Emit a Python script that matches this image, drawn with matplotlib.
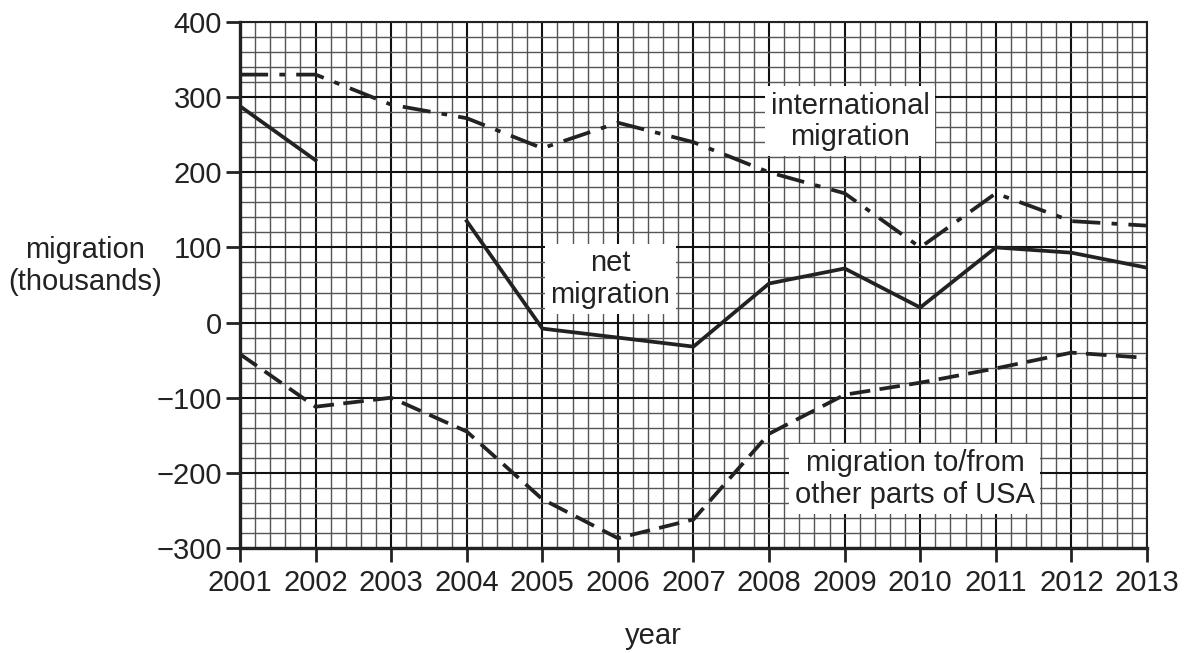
import matplotlib
matplotlib.use("Agg")
import matplotlib.pyplot as plt
import numpy as np

plt.rcParams['font.family'] = ['Liberation Sans', 'DejaVu Sans']

years = [2001, 2002, 2003, 2004, 2005, 2006, 2007, 2008, 2009, 2010, 2011, 2012, 2013]
international = [330, 330, 290, 272, 232, 266, 240, 200, 172, 100, 172, 135, 129]
net_years_a = [2001, 2002]
net_a = [288, 216]
net_years_b = [2004, 2005, 2006, 2007, 2008, 2009, 2010, 2011, 2012, 2013]
net_b = [135, -8, -20, -32, 52, 72, 20, 100, 93, 73]
domestic = [-42, -112, -100, -145, -235, -287, -262, -148, -96, -80, -61, -40, -47]
yticks = [-300, -200, -100, 0, 100, 200, 300, 400]

fig = plt.figure(figsize=(11.88, 6.53), dpi=100)
ax = fig.add_axes([0.202, 0.1608, 0.7635, 0.8055])
ax.set_xlim(2001, 2013)
ax.set_ylim(-300, 400)

# grid
ax.set_xticks(years)
ax.set_yticks(yticks)
ax.set_xticks(np.arange(2001, 2013.01, 0.2), minor=True)
ax.set_yticks(np.arange(-300, 400.1, 20), minor=True)
ax.grid(which='minor', color='#555555', linewidth=1.0)
ax.grid(which='major', color='#111111', linewidth=1.5)
ax.set_axisbelow(True)
ax.tick_params(which='minor', length=0)
ax.tick_params(which='major', length=10, width=2, color='#222222',
               labelsize=21, labelcolor='#222222')
ax.tick_params(axis='x', which='major', pad=5)
ax.tick_params(axis='y', which='major', pad=3)
for s in ax.spines.values():
    s.set_color('#222222')
    s.set_linewidth(1.5)
ax.spines['left'].set_linewidth(2.4)
ax.spines['bottom'].set_linewidth(2.4)

lc = '#222222'
ax.plot(years, international, color=lc, linewidth=2.7,
        dashes=(7.5, 3, 1.5, 3), zorder=3)
ax.plot(net_years_a, net_a, color=lc, linewidth=2.7, zorder=3)
ax.plot(net_years_b, net_b, color=lc, linewidth=2.7, zorder=3)
ax.plot(years, domestic, color=lc, linewidth=2.7, dashes=(5.5, 2.5), zorder=3)

box = dict(facecolor='white', edgecolor='none', pad=4)
ax.text(2009.07, 268, 'international\nmigration', ha='center', va='center',
        fontsize=21, color='#222222', linespacing=1.15, bbox=box, zorder=4)
ax.text(2005.9, 58, 'net\nmigration', ha='center', va='center',
        fontsize=21, color='#222222', linespacing=1.15, bbox=box, zorder=4)
ax.text(2009.93, -208, 'migration to/from\nother parts of USA', ha='center', va='center',
        fontsize=21, color='#222222', linespacing=1.15, bbox=box, zorder=4)

fig.text(85 / 1188, 1 - 266 / 653, 'migration\n(thousands)', ha='center', va='center',
         fontsize=21, color='#222222', linespacing=1.2)
fig.text(653 / 1188, 1 - 636 / 653, 'year', ha='center', va='center',
         fontsize=21, color='#222222')

fig.savefig('out.png', dpi=100)
